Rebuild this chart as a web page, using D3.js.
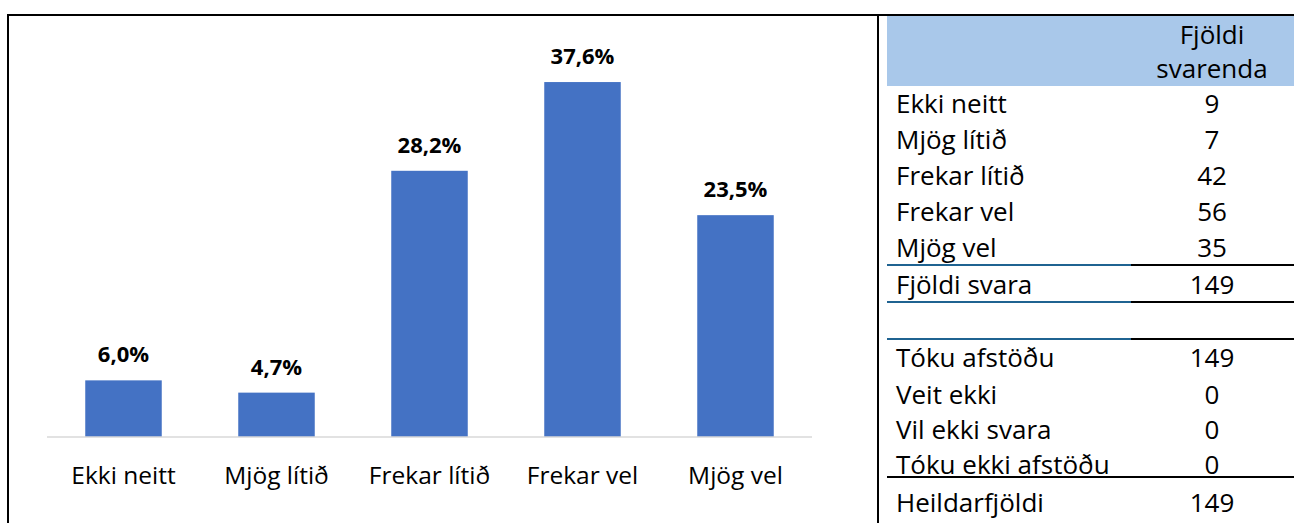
<!DOCTYPE html>
<html>
<head>
<meta charset="utf-8">
<script src="https://cdn.jsdelivr.net/npm/d3@7"></script>
<style>
  html, body { margin: 0; padding: 0; background: #fff; }
  svg { display: block; }
  text { font-family: "Open Sans", "Noto Sans", sans-serif; }
</style>
</head>
<body>
<svg id="chart" width="1294" height="523"></svg>
<script>
// ---- Data ----
const categories = ["Ekki neitt", "Mjög lítið", "Frekar lítið", "Frekar vel", "Mjög vel"];
const percentages = [6.0, 4.7, 28.2, 37.6, 23.5];
const headerLines = ["Fjöldi", "svarenda"];
const countLabels = ["Ekki neitt", "Mjög lítið", "Frekar lítið", "Frekar vel", "Mjög vel"];
const counts = [9, 7, 42, 56, 35];
const totalLabel = "Fjöldi svara";
const totalCount = 149;
const statusLabels = ["Tóku afstöðu", "Veit ekki", "Vil ekki svara", "Tóku ekki afstöðu"];
const statusCounts = [149, 0, 0, 0];
const grandLabel = "Heildarfjöldi";
const grandCount = 149;

const svg = d3.select("#chart");
const fmt = v => d3.format(".1f")(v).replace(".", ",") + "%";

// ---- Frame ----
svg.append("line").attr("x1", 7).attr("x2", 1294).attr("y1", 15).attr("y2", 15)
  .attr("stroke", "#000").attr("stroke-width", 2);
svg.append("line").attr("x1", 8).attr("x2", 8).attr("y1", 14).attr("y2", 523)
  .attr("stroke", "#000").attr("stroke-width", 2);
svg.append("line").attr("x1", 878).attr("x2", 878).attr("y1", 14).attr("y2", 523)
  .attr("stroke", "#000").attr("stroke-width", 2);

// ---- Bar chart ----
const x = d3.scaleBand().domain(categories).range([47, 812]).paddingInner(0.5).paddingOuter(0.25);
const y = d3.scaleLinear().domain([0, 40]).range([437, 59.4]);

svg.append("g").selectAll("rect").data(categories).join("rect")
  .attr("x", d => x(d))
  .attr("width", x.bandwidth())
  .attr("y", (d, i) => y(percentages[i]))
  .attr("height", (d, i) => y(0) - y(percentages[i]))
  .attr("fill", "#4472c4");

svg.append("line").attr("x1", 47).attr("x2", 812).attr("y1", y(0)).attr("y2", y(0))
  .attr("stroke", "#d9d9d9").attr("stroke-width", 1.5);

svg.append("g").selectAll("text").data(categories).join("text")
  .attr("x", d => x(d) + x.bandwidth() / 2)
  .attr("y", (d, i) => y(percentages[i]) - 18)
  .attr("text-anchor", "middle")
  .attr("font-size", 22).attr("font-weight", "bold").attr("fill", "#000")
  .text((d, i) => fmt(percentages[i]));

svg.append("g").selectAll("text").data(categories).join("text")
  .attr("x", d => x(d) + x.bandwidth() / 2)
  .attr("y", 484)
  .attr("text-anchor", "middle")
  .attr("font-size", 24.5).attr("fill", "#000")
  .text(d => d);

// ---- Table ----
const labelX = 896, numX = 1212;
svg.append("rect").attr("x", 887).attr("y", 16).attr("width", 1294 - 887).attr("height", 70)
  .attr("fill", "#a9c8ea");
svg.append("g").selectAll("text").data(headerLines).join("text")
  .attr("x", numX).attr("y", (d, i) => [44, 78][i])
  .attr("text-anchor", "middle").attr("font-size", 26).attr("fill", "#000")
  .text(d => d);

const rows = [];
countLabels.forEach((l, i) => rows.push({ label: l, value: counts[i], base: [113, 149, 185, 221, 257][i] }));
rows.push({ label: totalLabel, value: totalCount, base: 294 });
statusLabels.forEach((l, i) => rows.push({ label: l, value: statusCounts[i], base: [367, 404, 439, 474][i] }));
rows.push({ label: grandLabel, value: grandCount, base: 512 });

const tg = svg.append("g");
tg.selectAll("text.lab").data(rows).join("text").attr("class", "lab")
  .attr("x", labelX).attr("y", d => d.base).attr("font-size", 26).attr("fill", "#000")
  .text(d => d.label);
tg.selectAll("text.num").data(rows).join("text").attr("class", "num")
  .attr("x", numX).attr("y", d => d.base).attr("text-anchor", "middle").attr("font-size", 26).attr("fill", "#000")
  .text(d => d.value);

[265, 302, 339].forEach(yy => {
  svg.append("line").attr("x1", 887).attr("x2", 1131).attr("y1", yy).attr("y2", yy)
    .attr("stroke", "#1f6391").attr("stroke-width", 2);
  svg.append("line").attr("x1", 1131).attr("x2", 1294).attr("y1", yy).attr("y2", yy)
    .attr("stroke", "#000").attr("stroke-width", 2);
});
svg.append("line").attr("x1", 887).attr("x2", 1294).attr("y1", 477).attr("y2", 477)
  .attr("stroke", "#000").attr("stroke-width", 2);
</script>
</body>
</html>
